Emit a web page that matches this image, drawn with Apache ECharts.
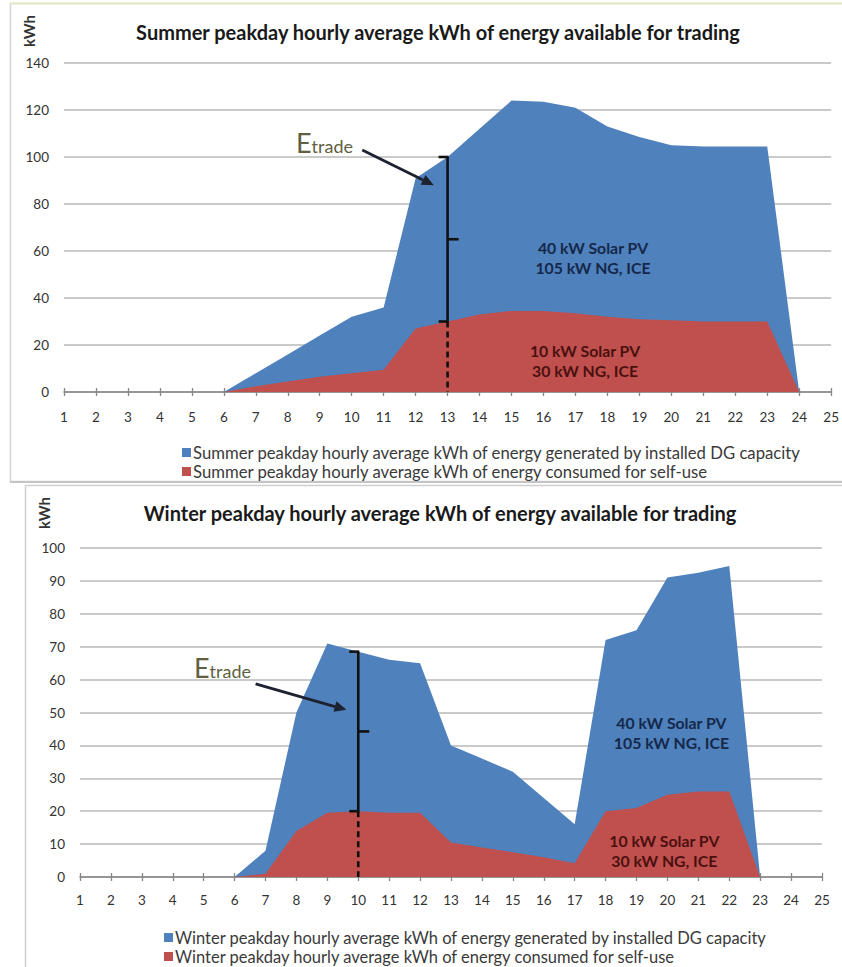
<!DOCTYPE html>
<html>
<head>
<meta charset="utf-8">
<title>Peakday hourly average kWh of energy available for trading</title>
<script src="https://cdn.jsdelivr.net/npm/echarts/dist/echarts.min.js"></script>
<style>
  html, body { margin: 0; padding: 0; background: #ffffff; }
  #chart { width: 842px; height: 967px; }
</style>
</head>
<body>
<div id="chart"></div>
<script>
// Hour of day (1..24)
const hours = [1, 2, 3, 4, 5, 6, 7, 8, 9, 10, 11, 12, 13, 14, 15, 16, 17, 18, 19, 20, 21, 22, 23, 24];

// Summer peakday, kWh per hour
const summerGenerated = [0, 0, 0, 0, 0, 0, 8, 16, 24, 32, 36, 91, 100, 112, 124, 123.5, 121, 113, 108.5, 105, 104.5, 104.5, 104.5, 0];
const summerSelfUse   = [0, 0, 0, 0, 0, 0, 2.5, 4.5, 6.5, 8, 9.5, 27, 30, 33, 34.5, 34.5, 33.5, 32, 31, 30.5, 30, 30, 30, 0];

// Winter peakday, kWh per hour
const winterGenerated = [0, 0, 0, 0, 0, 0, 8, 50, 71, 68.5, 66, 65, 40, 36, 32, 24, 16, 72, 75, 91, 92.5, 94.5, 0, 0];
const winterSelfUse   = [0, 0, 0, 0, 0, 0, 1, 14, 19.5, 20, 19.5, 19.5, 10.5, 9, 7.5, 6, 4.2, 20, 21, 25, 26, 26, 0, 0];

// Hour at which the tradable energy bracket is drawn
const summerTradeHour = 13;
const winterTradeHour = 10;

const summerTitle = 'Summer peakday hourly average kWh of energy available for trading';
const winterTitle = 'Winter peakday hourly average kWh of energy available for trading';
const summerGenName  = 'Summer peakday hourly average kWh of energy generated by installed DG capacity';
const summerSelfName = 'Summer peakday hourly average kWh of energy consumed for self-use';
const winterGenName  = 'Winter peakday hourly average kWh of energy generated by installed DG capacity';
const winterSelfName = 'Winter peakday hourly average kWh of energy consumed for self-use';
const capacityLarge = ['40 kW Solar PV', '105 kW NG, ICE'];
const capacitySmall = ['10 kW Solar PV', '30 kW NG, ICE'];

const BLUE = '#4f81bd';
const RED = '#c0504d';
const FONT = 'Lato, "Open Sans", sans-serif';

const pairs = (xs, ys) => xs.map((x, i) => [x, ys[i]]);
const valueAt = (ys, h) => ys[hours.indexOf(h)];

function areaSeries(name, values, color, axis) {
  return {
    name: name,
    type: 'line',
    xAxisIndex: axis, yAxisIndex: axis,
    data: pairs(hours, values),
    showSymbol: false,
    symbol: 'none',
    color: color,
    lineStyle: { width: 0, opacity: 0 },
    areaStyle: { color: color, opacity: 1 },
    silent: true,
    animation: false
  };
}

// Bracket, arrow, "Etrade" tag and capacity notes, placed in data space
function tradeAnnotation(axis, cfg) {
  return {
    type: 'custom',
    xAxisIndex: axis, yAxisIndex: axis,
    data: [[cfg.hour, 0]],
    silent: true,
    z: 10,
    clip: false,
    animation: false,
    renderItem: function (params, api) {
      const top = api.coord([cfg.hour, cfg.high]);
      const bot = api.coord([cfg.hour, cfg.low]);
      const base = api.coord([cfg.hour, 0]);
      const x = top[0];
      const midY = (top[1] + bot[1]) / 2;
      const ink = '#111111';
      const lw = 2.6;
      const from = api.coord(cfg.arrowFrom);
      const to = api.coord(cfg.arrowTo);
      const ang = Math.atan2(to[1] - from[1], to[0] - from[0]);
      const hl = 12, hw = 5.5;
      const cs = Math.cos(ang), sn = Math.sin(ang);
      const back = [to[0] - hl * cs, to[1] - hl * sn];
      const head = [
        to,
        [back[0] + hw * sn, back[1] - hw * cs],
        [back[0] - hw * sn, back[1] + hw * cs]
      ];
      const tag = api.coord(cfg.tagAt);
      const upper = api.coord(cfg.upperNoteAt);
      const lower = api.coord(cfg.lowerNoteAt);
      const line = (x1, y1, x2, y2, dash) => ({
        type: 'line',
        shape: { x1: x1, y1: y1, x2: x2, y2: y2 },
        style: { stroke: ink, lineWidth: lw, lineDash: dash || null, fill: null }
      });
      return {
        type: 'group',
        children: [
          line(x, top[1], x, bot[1]),
          line(x - 9, top[1], x + 1, top[1]),
          line(x, midY, x + 11, midY),
          line(x - 9, bot[1], x + 1, bot[1]),
          line(x, bot[1], x, base[1], [6, 4]),
          {
            type: 'line',
            shape: { x1: from[0], y1: from[1], x2: back[0], y2: back[1] },
            style: { stroke: '#1c2230', lineWidth: 2.8 }
          },
          { type: 'polygon', shape: { points: head }, style: { fill: '#1c2230' } },
          {
            type: 'text',
            style: {
              x: tag[0], y: tag[1],
              text: '{e|E}{t|trade}',
              align: 'center', verticalAlign: 'middle',
              rich: {
                e: { fontSize: 27, fontFamily: FONT, fill: '#5f6040', verticalAlign: 'bottom' },
                t: { fontSize: 18, fontFamily: FONT, fill: '#5f6040', verticalAlign: 'bottom', padding: [0, 0, 1, 0] }
              }
            }
          },
          {
            type: 'text',
            style: {
              x: upper[0], y: upper[1],
              text: capacityLarge.join('\n'),
              align: 'center', verticalAlign: 'middle',
              fontFamily: FONT, fontWeight: 'bold', fontSize: 15.8, lineHeight: 20,
              fill: '#15284a'
            }
          },
          {
            type: 'text',
            style: {
              x: lower[0], y: lower[1],
              text: capacitySmall.join('\n'),
              align: 'center', verticalAlign: 'middle',
              fontFamily: FONT, fontWeight: 'bold', fontSize: 15.8, lineHeight: 20,
              fill: '#4a1010'
            }
          }
        ]
      };
    }
  };
}

function hourAxis(grid, inner) {
  return {
    type: 'value', gridIndex: grid, min: 1, max: 25, interval: 1,
    position: 'bottom',
    axisLine: { show: !inner, onZero: false, lineStyle: { color: '#858585', width: 1.6 } },
    axisTick: { show: true, inside: inner, length: 4, lineStyle: { color: '#858585', width: 1.3 } },
    axisLabel: {
      show: !inner, margin: grid === 0 ? 18 : 16,
      fontFamily: FONT, fontSize: 13.5, color: '#333333'
    },
    splitLine: { show: false }
  };
}

function kwhAxis(grid, max, step) {
  return {
    type: 'value', gridIndex: grid, min: 0, max: max, interval: step,
    axisLine: { show: false },
    axisTick: { show: false },
    axisLabel: { margin: 15, fontFamily: FONT, fontSize: 13.5, color: '#333333' },
    splitLine: { lineStyle: { color: '#b8b8b8', width: 1.6 } }
  };
}

const chart = echarts.init(document.getElementById('chart'), null, { renderer: 'svg' });

chart.setOption({
  backgroundColor: '#ffffff',
  animation: false,
  textStyle: { fontFamily: FONT },
  title: [
    {
      text: summerTitle, left: 433, top: 17, textAlign: 'center',
      textStyle: { fontFamily: FONT, fontWeight: 'bold', fontSize: 20, color: '#1a1a1a' }
    },
    {
      text: winterTitle, left: 435, top: 498, textAlign: 'center',
      textStyle: { fontFamily: FONT, fontWeight: 'bold', fontSize: 20, color: '#1a1a1a' }
    }
  ],
  legend: [
    {
      data: [summerGenName, summerSelfName],
      orient: 'vertical', left: 182, top: 444, padding: 0,
      icon: 'rect', itemWidth: 9, itemHeight: 9, itemGap: 2,
      textStyle: { fontFamily: FONT, fontSize: 16.7, lineHeight: 17, color: '#3a3a3a', padding: [0, 0, 0, -3] }
    },
    {
      data: [winterGenName, winterSelfName],
      orient: 'vertical', left: 164, top: 929, padding: 0,
      icon: 'rect', itemWidth: 9, itemHeight: 9, itemGap: 2,
      textStyle: { fontFamily: FONT, fontSize: 16.5, lineHeight: 17, color: '#3a3a3a', padding: [0, 0, 0, -3] }
    }
  ],
  grid: [
    { left: 64, top: 63, width: 774, height: 329 },
    { left: 80, top: 548, width: 742, height: 329 }
  ],
  xAxis: [hourAxis(0, false), hourAxis(1, false), hourAxis(0, true), hourAxis(1, true)],
  yAxis: [kwhAxis(0, 140, 20), kwhAxis(1, 100, 10)],
  graphic: [
    { type: 'rect', shape: { x: 10.5, y: 3.5, width: 850, height: 478 }, style: { fill: null, stroke: '#d4d4d4', lineWidth: 1.5 }, z: -1 },
    { type: 'line', shape: { x1: 10, y1: 3.5, x2: 842, y2: 3.5 }, style: { stroke: '#e2ebc8', lineWidth: 2 }, z: -1 },
    { type: 'line', shape: { x1: 10, y1: 482, x2: 842, y2: 482 }, style: { stroke: '#c4c4c4', lineWidth: 2 }, z: -1 },
    { type: 'rect', shape: { x: 25.5, y: 485.5, width: 840, height: 500 }, style: { fill: null, stroke: '#cfcfcf', lineWidth: 1.5 }, z: -1 },
    {
      type: 'text', x: 29, y: 31, rotation: Math.PI / 2,
      style: { text: 'kWh', fontFamily: FONT, fontWeight: 'bold', fontSize: 15, fill: '#333333', align: 'center', verticalAlign: 'middle' }
    },
    {
      type: 'text', x: 44, y: 513, rotation: Math.PI / 2,
      style: { text: 'kWh', fontFamily: FONT, fontWeight: 'bold', fontSize: 15, fill: '#333333', align: 'center', verticalAlign: 'middle' }
    }
  ],
  series: [
    areaSeries(summerGenName, summerGenerated, BLUE, 0),
    areaSeries(summerSelfName, summerSelfUse, RED, 0),
    areaSeries(winterGenName, winterGenerated, BLUE, 1),
    areaSeries(winterSelfName, winterSelfUse, RED, 1),
    tradeAnnotation(0, {
      hour: summerTradeHour,
      high: valueAt(summerGenerated, summerTradeHour),
      low: valueAt(summerSelfUse, summerTradeHour),
      tagAt: [9.15, 106],
      arrowFrom: [10.33, 103],
      arrowTo: [12.57, 88],
      upperNoteAt: [17.55, 57.4],
      lowerNoteAt: [17.3, 13.6]
    }),
    tradeAnnotation(1, {
      hour: winterTradeHour,
      high: valueAt(winterGenerated, winterTradeHour),
      low: valueAt(winterSelfUse, winterTradeHour),
      tagAt: [5.61, 63.8],
      arrowFrom: [6.68, 58.7],
      arrowTo: [9.62, 50.8],
      upperNoteAt: [20.13, 43.8],
      lowerNoteAt: [19.9, 8.2]
    })
  ]
});
</script>
</body>
</html>
